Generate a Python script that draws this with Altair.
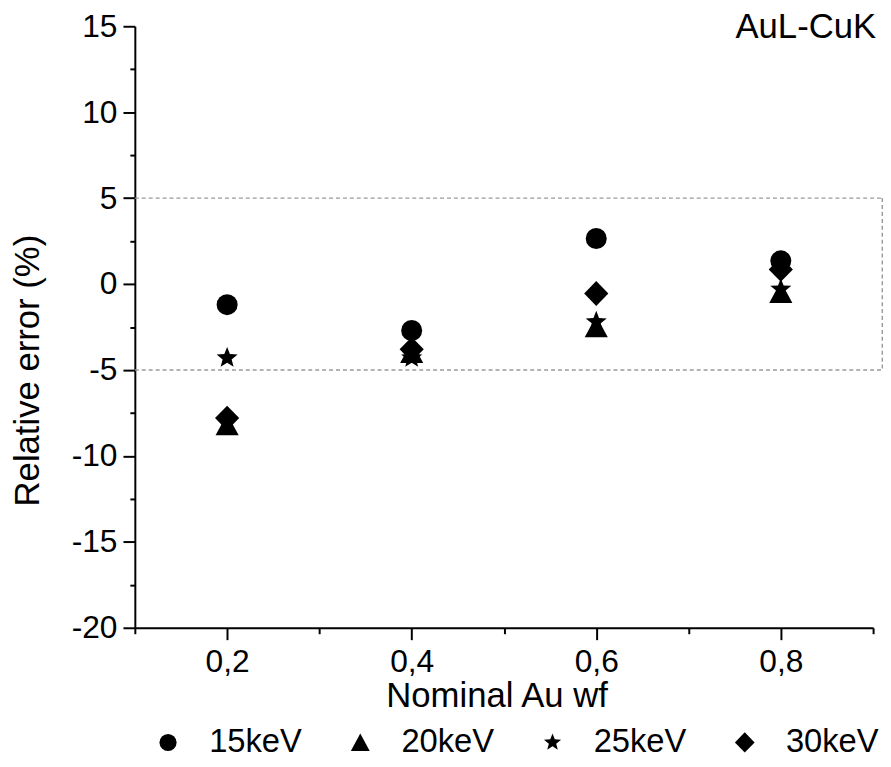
import math
import altair as alt
import pandas as pd

# ---- data ----
energies = ["15keV", "20keV", "25keV", "30keV"]
nominal_au = [0.2, 0.4, 0.6, 0.8]
err_15kev = [-1.2, -2.7, 2.65, 1.35]
err_20kev = [-8.2, -4.0, -2.5, -0.5]
err_25kev = [-4.3, -4.3, -2.2, -0.3]
err_30kev = [-7.8, -3.8, -0.55, 0.85]

band_limits = [5, -5]
band_x = [0.1, 0.91]
x_ticks = [round(0.1 * i, 1) for i in range(1, 10)]
y_ticks = [-20 + 2.5 * i for i in range(15)]
panel_label = "AuL-CuK"

series = {"15keV": err_15kev, "20keV": err_20kev, "25keV": err_25kev, "30keV": err_30kev}
rows = []
for e in energies:
    for xv, yv in zip(nominal_au, series[e]):
        rows.append({"x": xv, "y": yv, "energy": e})
pts = pd.DataFrame(rows)

# ---- symbol shapes (style) ----
def star_path(r_out=1.05, r_in=0.45):
    p = []
    for k in range(10):
        r = r_out if k % 2 == 0 else r_in
        a = -math.pi / 2 + k * math.pi / 5
        p.append(f"{r*math.cos(a):.3f},{r*math.sin(a):.3f}")
    return "M" + "L".join(p) + "Z"

shape_range = [
    "circle",
    "M0,-1.05L1.1,0.98L-1.1,0.98Z",
    star_path(),
    "M0,-1.18L1.15,0L0,1.18L-1.15,0Z",
]

FONT = "Liberation Sans"

xscale = alt.Scale(domain=[0.1, 0.9], zero=False, nice=False)
yscale = alt.Scale(domain=[-20, 15], zero=False, nice=False)

x_axis = alt.Axis(
    values=x_ticks,
    labelExpr="round(datum.value*10) % 2 === 0 ? replace(format(datum.value, '.1f'), '.', ',') : ''",
    tickSize={"condition": {"test": "round(datum.value*10) % 2 === 0", "value": 12}, "value": 6},
    labelPadding=7,
    title="Nominal Au wf",
    titleX=365,
    titlePadding=1,
)
y_axis = alt.Axis(
    values=y_ticks,
    labelExpr="datum.value % 5 === 0 ? '' + datum.value : ''",
    tickSize={"condition": {"test": "datum.value % 5 === 0", "value": 12}, "value": 5},
    labelPadding=6,
    title="Relative error (%)",
    titleY=347,
    titlePadding=26,
)

points = alt.Chart(pts).mark_point(filled=True, opacity=1, color="black", size=450).encode(
    x=alt.X("x:Q", scale=xscale, axis=x_axis),
    y=alt.Y("y:Q", scale=yscale, axis=y_axis),
    shape=alt.Shape(
        "energy:N",
        scale=alt.Scale(domain=energies, range=shape_range),
        legend=alt.Legend(
            title=None,
            orient="none",
            direction="horizontal",
            legendX=17,
            legendY=706,
            symbolSize=300,
            symbolFillColor="black",
            symbolStrokeColor="black",
            labelFontSize=33,
            labelFont=FONT,
            labelColor="black",
            labelOffset=25,
            columnPadding=42,
            symbolOpacity=1,
        ),
    ),
)

hlines = pd.DataFrame({"y": band_limits, "x": [band_x[0]] * 2, "x2": [band_x[1]] * 2})
vline = pd.DataFrame({"x": [band_x[1]], "y": [band_limits[0]], "y2": [band_limits[1]]})

h_rules = alt.Chart(hlines).mark_rule(color="#9a9a9a", strokeWidth=1.5, strokeDash=[4, 3]).encode(
    x=alt.X("x:Q", scale=xscale), x2="x2:Q", y=alt.Y("y:Q", scale=yscale)
)
v_rule = alt.Chart(vline).mark_rule(color="#9a9a9a", strokeWidth=1.5, strokeDash=[4, 3]).encode(
    x=alt.X("x:Q", scale=xscale), y=alt.Y("y:Q", scale=yscale), y2="y2:Q"
)

label_df = pd.DataFrame({"x": [0.9033], "y": [14.95], "t": [panel_label]})
label = alt.Chart(label_df).mark_text(
    align="right", baseline="middle", fontSize=35, font=FONT, color="black"
).encode(x=alt.X("x:Q", scale=xscale), y=alt.Y("y:Q", scale=yscale), text="t:N")

chart = (
    alt.layer(h_rules, v_rule, points, label)
    .properties(
        width=745,
        height=607,
        autosize=alt.AutoSizeParams(type="none"),
        padding={"left": 128, "top": 15, "right": 10, "bottom": 129},
    )
    .configure_view(stroke=None)
    .configure_axis(
        grid=False,
        domainColor="black",
        domainWidth=2,
        tickColor="black",
        tickWidth=2,
        labelFont=FONT,
        labelFontSize=32,
        labelColor="black",
        titleFont=FONT,
        titleFontSize=35,
        titleFontWeight="normal",
        titleColor="black",
    )
)

chart.save("out.html", embed_options={"renderer": "svg", "actions": False})
